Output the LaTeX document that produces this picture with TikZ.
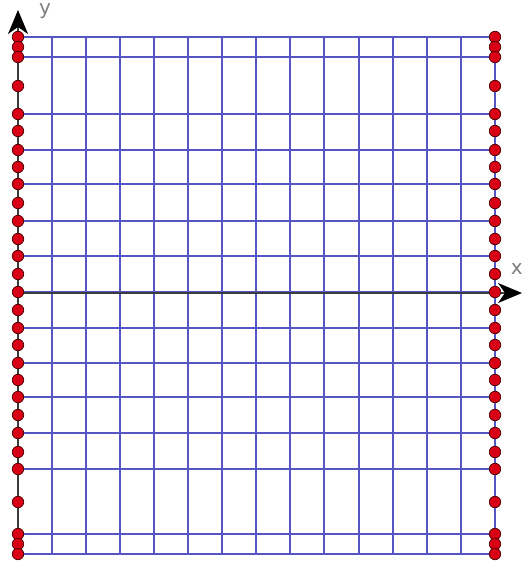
\documentclass[tikz,border=0pt]{standalone}
\usepackage{fontspec}
\setmainfont{DejaVu Sans}
\usetikzlibrary{arrows.meta}
\definecolor{gridblue}{RGB}{85,85,195}
\definecolor{dotred}{RGB}{215,0,20}
\definecolor{axisgray}{RGB}{60,60,60}
\begin{document}
\begin{tikzpicture}[x=1pt,y=-1pt,
  gridline/.style={draw=gridblue,line width=1.4pt},
  axisline/.style={draw=axisgray,line width=1.5pt,-{Stealth[length=24pt,width=20pt,inset=7pt,color=black]}},
  dotnode/.style={circle,fill=dotred,draw=black!70!red,line width=0.7pt,inner sep=0pt,minimum size=11.5pt},
  axislabel/.style={text=gray,font=\fontsize{20}{20}\selectfont,inner sep=0pt}]
\useasboundingbox (0,0) rectangle (523,561);
\fill[white] (0,0) rectangle (523,561);
% vertical grid lines
\foreach \xx in {52,86,120,154,188,222,256,290,324,359,393,427,461,495} {
  \draw[gridline] (\xx,37) -- (\xx,554);
}
% horizontal grid lines
\foreach \yy in {37,57,114,150,184,221,256,292,328,363,397,433,469,534,554} {
  \draw[gridline] (18,\yy) -- (495,\yy);
}
% axes
\coordinate (ybot) at (18,558);
\coordinate (ytop) at (18,10);
\coordinate (xleft) at (18,293);
\coordinate (xright) at (522,293);
\draw[axisline] (ybot) -- (ytop);
\draw[axisline] (xleft) -- (xright);
\node[axislabel] (ylab) at (45,11) {y};
\node[axislabel,anchor=east] (xlab) at (523,269) {x};
% dots
\foreach \yy [count=\k] in {37,47,57,86,114,131,150,167,184,203,221,239,256,274,292,310,328,345,363,380,397,415,433,452,469,502,534,544,554} {
  \node[dotnode] (l\k) at (18,\yy) {};
  \node[dotnode] (r\k) at (495,\yy) {};
}
\end{tikzpicture}
\end{document}
